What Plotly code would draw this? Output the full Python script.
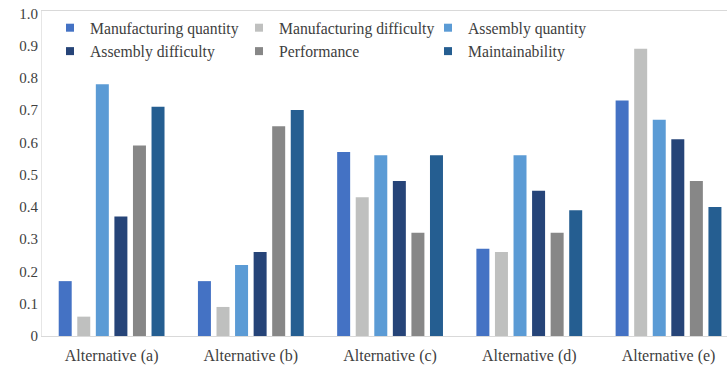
import plotly.graph_objects as go

categories = ["Alternative (a)", "Alternative (b)", "Alternative (c)", "Alternative (d)", "Alternative (e)"]

manufacturing_quantity = [0.17, 0.17, 0.57, 0.27, 0.73]
manufacturing_difficulty = [0.06, 0.09, 0.43, 0.26, 0.89]
assembly_quantity = [0.78, 0.22, 0.56, 0.56, 0.67]
assembly_difficulty = [0.37, 0.26, 0.48, 0.45, 0.61]
performance = [0.59, 0.65, 0.32, 0.32, 0.48]
maintainability = [0.71, 0.70, 0.56, 0.39, 0.40]

tick_vals = [0, 0.1, 0.2, 0.3, 0.4, 0.5, 0.6, 0.7, 0.8, 0.9, 1.0]
tick_text = ["0", "0.1", "0.2", "0.3", "0.4", "0.5", "0.6", "0.7", "0.8", "0.9", "1.0"]

series = [
    ("Manufacturing quantity", manufacturing_quantity, "#4472C4"),
    ("Manufacturing difficulty", manufacturing_difficulty, "#BFC0BF"),
    ("Assembly quantity", assembly_quantity, "#5B9BD5"),
    ("Assembly difficulty", assembly_difficulty, "#264478"),
    ("Performance", performance, "#878787"),
    ("Maintainability", maintainability, "#255E91"),
]

FONT = "Times New Roman"

fig = go.Figure()
for name, vals, color in series:
    fig.add_trace(go.Bar(
        x=categories, y=vals, name=name, showlegend=False,
        marker=dict(color=color, line=dict(width=0)),
    ))
# small square legend keys
for name, vals, color in series:
    fig.add_trace(go.Scatter(
        x=[None], y=[None], mode="markers", name=name,
        marker=dict(symbol="square", size=8, color=color),
    ))

fig.update_layout(
    width=727, height=368,
    margin=dict(l=42, r=0, t=11, b=32),
    paper_bgcolor="white", plot_bgcolor="white",
    barmode="group", bargap=0.2, bargroupgap=0.3,
    font=dict(family=FONT, size=15, color="#404040"),
    showlegend=True,
    legend=dict(
        orientation="h", x=0.0117, y=1.0, xanchor="left", yanchor="top",
        font=dict(family=FONT, size=15.7, color="#404040"),
        entrywidth=144, itemwidth=30, tracegroupgap=0,
        bgcolor="rgba(0,0,0,0)",
    ),
    xaxis=dict(
        range=[-0.5, 4.42], showgrid=False, showline=True, linecolor="#D9D9D9",
        linewidth=1, ticks="", tickfont=dict(family=FONT, size=16, color="#404040"),
        ticklabelstandoff=5, mirror=True, fixedrange=True,
    ),
    yaxis=dict(
        range=[0, 1.007], tickvals=tick_vals, ticktext=tick_text,
        showgrid=False, showline=True, linecolor="#E6E6E6", linewidth=1,
        zeroline=False, ticks="", tickfont=dict(family=FONT, size=15, color="#404040"),
        fixedrange=True,
    ),
)

fig.write_html("out.html")
